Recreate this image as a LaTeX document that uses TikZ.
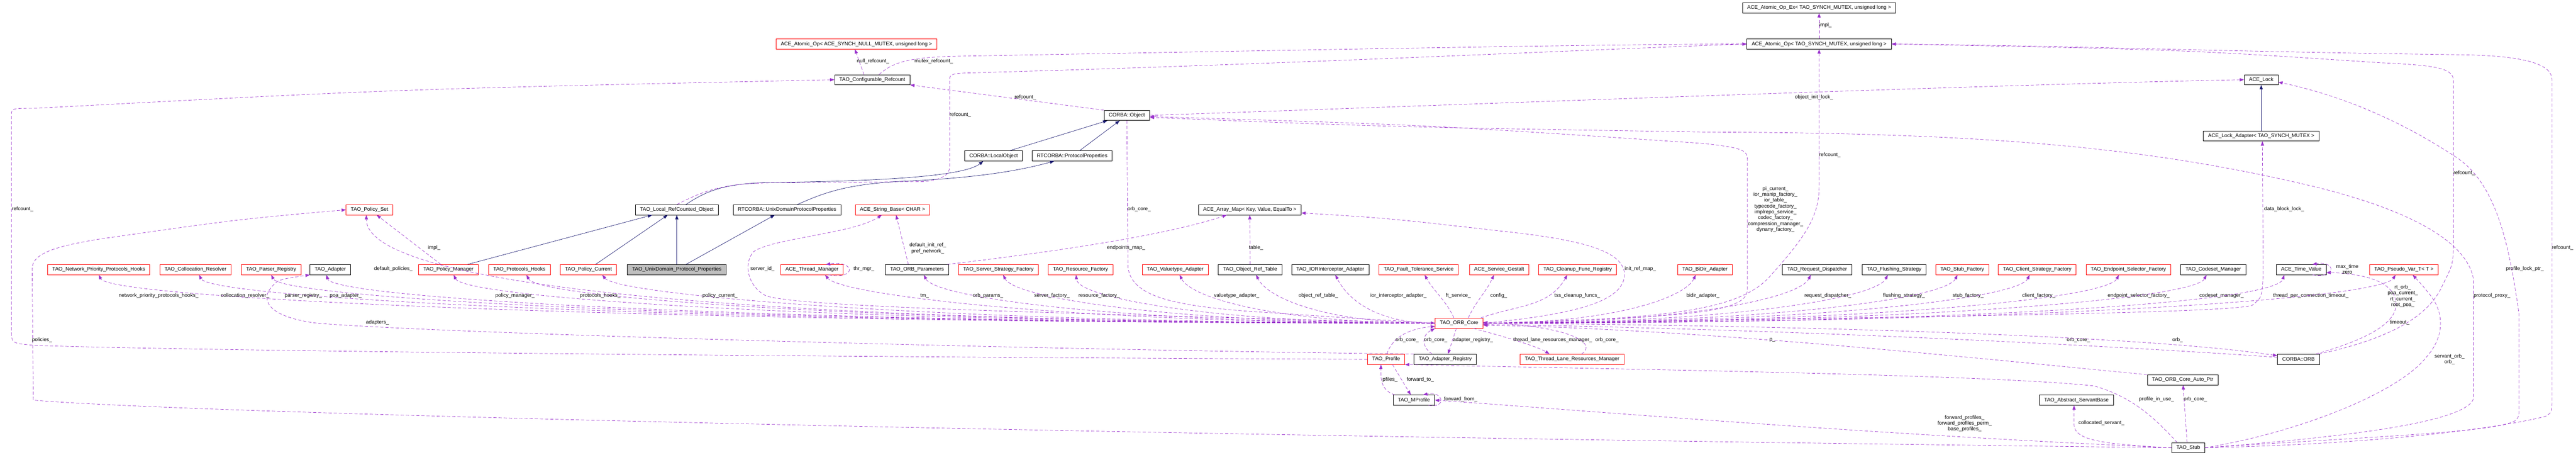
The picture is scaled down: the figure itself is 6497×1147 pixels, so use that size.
\documentclass[tikz,border=0pt]{standalone}
\usepackage{fontspec}
\setmainfont{Liberation Sans}
\usetikzlibrary{arrows.meta}

\definecolor{edgepurple}{HTML}{9A32CD}
\definecolor{edgenavy}{HTML}{191970}
\definecolor{boxgray}{HTML}{BFBFBF}

\tikzset{
  cls/.style={draw=black, line width=0.9pt, minimum height=25.5pt, inner xsep=12pt, inner ysep=0pt, font=\fontsize{13}{14.7}\selectfont},
  clsred/.style={cls, draw=red},
  clsmain/.style={cls, fill=boxgray},
  member/.style={draw=edgepurple, line width=0.9pt, dash pattern=on 8pt off 5pt, -{Triangle[length=11pt,width=8pt]}},
  inherit/.style={draw=edgenavy, line width=0.9pt, -{Triangle[length=11pt,width=8pt]}},
  lbl/.style={font=\fontsize{13}{14.7}\selectfont, inner sep=0pt, align=center},
}

\begin{document}
\begin{tikzpicture}[x=1pt, y=1pt]
\useasboundingbox (0,0) rectangle (6497,-1147);

% classes
\node[cls] (aopex) at (4588,-20) {ACE\_Atomic\_Op\_Ex< TAO\_SYNCH\_MUTEX, unsigned long >};
\node[cls] (aop) at (4588,-111) {ACE\_Atomic\_Op< TAO\_SYNCH\_MUTEX, unsigned long >};
\node[clsred] (aopnull) at (2160,-111) {ACE\_Atomic\_Op< ACE\_SYNCH\_NULL\_MUTEX, unsigned long >};
\node[cls] (cfgref) at (2200,-201) {TAO\_Configurable\_Refcount};
\node[cls] (acelock) at (5703,-201) {ACE\_Lock};
\node[cls] (corbaobj) at (2842,-291) {CORBA::Object};
\node[cls] (lockadapter) at (5703,-343) {ACE\_Lock\_Adapter< TAO\_SYNCH\_MUTEX >};
\node[cls] (localobj) at (2506,-393) {CORBA::LocalObject};
\node[cls] (protoprops) at (2704,-393) {RTCORBA::ProtocolProperties};
\node[clsred] (policyset) at (932,-529) {TAO\_Policy\_Set};
\node[cls] (lrco) at (1707,-529) {TAO\_Local\_RefCounted\_Object};
\node[cls] (rtudpp) at (1985,-529) {RTCORBA::UnixDomainProtocolProperties};
\node[clsred] (strbase) at (2251,-529) {ACE\_String\_Base< CHAR >};
\node[cls] (arraymap) at (3152,-529) {ACE\_Array\_Map< Key, Value, EqualTo >};

\node[clsred] (npph) at (249,-680) {TAO\_Network\_Priority\_Protocols\_Hooks};
\node[clsred] (collres) at (493,-680) {TAO\_Collocation\_Resolver};
\node[clsred] (parsreg) at (684,-680) {TAO\_Parser\_Registry};
\node[cls] (adapter) at (833,-680) {TAO\_Adapter};
\node[clsred] (polmgr) at (1131,-680) {TAO\_Policy\_Manager};
\node[clsred] (prothooks) at (1310,-680) {TAO\_Protocols\_Hooks};
\node[clsred] (polcur) at (1484,-680) {TAO\_Policy\_Current};
\node[clsmain] (udpp) at (1707,-680) {TAO\_UnixDomain\_Protocol\_Properties};
\node[clsred] (thrmgr) at (2048,-680) {ACE\_Thread\_Manager};
\node[cls] (orbparams) at (2313,-680) {TAO\_ORB\_Parameters};
\node[clsred] (ssf) at (2518,-680) {TAO\_Server\_Strategy\_Factory};
\node[clsred] (resfac) at (2725,-680) {TAO\_Resource\_Factory};
\node[clsred] (vtadapter) at (2964,-680) {TAO\_Valuetype\_Adapter};
\node[cls] (oreftable) at (3153,-680) {TAO\_Object\_Ref\_Table};
\node[cls] (iorint) at (3355,-680) {TAO\_IORInterceptor\_Adapter};
\node[clsred] (ftserv) at (3578,-680) {TAO\_Fault\_Tolerance\_Service};
\node[clsred] (svcgestalt) at (3781,-680) {ACE\_Service\_Gestalt};
\node[clsred] (cleanup) at (3979,-680) {TAO\_Cleanup\_Func\_Registry};
\node[clsred] (bidir) at (4300,-680) {TAO\_BiDir\_Adapter};
\node[cls] (reqdisp) at (4583,-680) {TAO\_Request\_Dispatcher};
\node[cls] (flushing) at (4777,-680) {TAO\_Flushing\_Strategy};
\node[clsred] (stubfac) at (4949,-680) {TAO\_Stub\_Factory};
\node[clsred] (csf) at (5138,-680) {TAO\_Client\_Strategy\_Factory};
\node[clsred] (esf) at (5368,-680) {TAO\_Endpoint\_Selector\_Factory};
\node[cls] (codeset) at (5582,-680) {TAO\_Codeset\_Manager};
\node[cls] (timeval) at (5804,-680) {ACE\_Time\_Value};
\node[clsred] (pseudovar) at (6063,-680) {TAO\_Pseudo\_Var\_T< T >};

\node[clsred] (orbcore) at (3680,-815) {TAO\_ORB\_Core};
\node[clsred] (profile) at (3496,-906) {TAO\_Profile};
\node[cls] (adreg) at (3645,-906) {TAO\_Adapter\_Registry};
\node[clsred] (tlrm) at (3965,-906) {TAO\_Thread\_Lane\_Resources\_Manager};
\node[cls] (corbaorb) at (5797,-906) {CORBA::ORB};
\node[cls] (autoptr) at (5505,-958) {TAO\_ORB\_Core\_Auto\_Ptr};
\node[cls] (mprofile) at (3566,-1009) {TAO\_MProfile};
\node[cls] (servantbase) at (5237,-1009) {TAO\_Abstract\_ServantBase};
\node[cls] (stub) at (5519,-1129) {TAO\_Stub};

% inheritance
\draw[inherit] (lockadapter) -- (acelock);
\draw[inherit] ([xshift=41]localobj.north) -- ([xshift=-49]corbaobj.south);
\draw[inherit] ([xshift=19]protoprops.north) -- ([xshift=-18]corbaobj.south);
\draw[inherit] ([xshift=23]lrco.north) .. controls (1790,-475) and (1840,-462) .. (1950,-460) .. controls (2300,-456) and (2440,-438) .. ([xshift=-26]localobj.south);
\draw[inherit] ([xshift=26]rtudpp.north) .. controls (2080,-485) and (2140,-462) .. (2300,-456) .. controls (2480,-447) and (2580,-428) .. ([xshift=-45]protoprops.south);
\draw[inherit] ([xshift=48]polmgr.north) -- ([xshift=-62]lrco.south);
\draw[inherit] ([xshift=18]polcur.north) -- ([xshift=-23]lrco.south);
\draw[inherit] (udpp) -- (lrco);
\draw[inherit] ([xshift=23]udpp.north) -- ([xshift=-31]rtudpp.south);

% members, top part
\draw[member] (aop) -- (aopex);
\node[lbl] (l-impl) at (4604,-64) {impl\_};
\draw[member] ([xshift=-21]cfgref.north) -- ([xshift=-4]aopnull.south);
\node[lbl] (l-nullref) at (2202,-154) {null\_refcount\_};
\draw[member] ([xshift=17]cfgref.north) .. controls (2250,-160) and (2280,-146) .. (2400,-142) .. controls (3300,-126) and (4000,-112) .. (aop.west);
\node[lbl] (l-mutexref) at (2355,-154) {mutex\_refcount\_};
\draw[member] (corbaobj.north west) -- (cfgref.south east);
\node[lbl] (l-objref) at (2586,-246) {refcount\_};
\draw[member] (lrco.north) .. controls (1780,-478) and (1830,-462) .. (1950,-461) -- (2330,-458) .. controls (2380,-452) and (2395,-440) .. (2395,-420) -- (2395,-200) .. controls (2395,-187) and (2405,-185) .. (2440,-184) .. controls (3300,-160) and (4000,-125) .. (aop.west);
\node[lbl] (l-lrcoref) at (2422,-290) {refcount\_};
\draw[member] (corbaobj.east) .. controls (3800,-260) and (5000,-214) .. (acelock.west);
\node[lbl] (l-initlock) at (4575,-246) {object\_init\_lock\_};
\draw[member] (orbcore.east) .. controls (4250,-805) and (4400,-775) .. (4470,-690) .. controls (4560,-590) and (4588,-540) .. (4588,-470) -- (aop.south);
\node[lbl] (l-coreref) at (4615,-391) {refcount\_};
\draw[member] (orbcore.east) .. controls (4250,-800) and (4407,-790) .. (4407,-730) -- (4407,-400) .. controls (4407,-377) and (4385,-372) .. (4300,-362) .. controls (3600,-315) .. ([yshift=-3]corbaobj.east);
\node[lbl] (l-pi) at (4478,-528) {pi\_current\_\\ior\_manip\_factory\_\\ior\_table\_\\typecode\_factory\_\\implrepo\_service\_\\codec\_factory\_\\compression\_manager\_\\dynany\_factory\_};
\draw[member] (corbaobj.south) -- (2845,-675) .. controls (2855,-745) and (2950,-770) .. (3150,-785) .. controls (3450,-805) .. (orbcore.west);
\node[lbl] (l-objcore) at (2873,-527) {orb\_core\_};
\draw[member] (orbcore.east) .. controls (4800,-800) and (5620,-790) .. (5680,-770) .. controls (5705,-750) .. (5708,-690) -- ([xshift=3]lockadapter.south);
\node[lbl] (l-dblock) at (5761,-527) {data\_block\_lock\_};

% members, far right
\draw[member] ([xshift=-2]corbaorb.north east) .. controls (6000,-860) and (6120,-810) .. (6160,-720) .. controls (6185,-670) .. (6188,-630) -- (6188,-205) .. controls (6188,-172) and (6150,-165) .. (6000,-158) .. controls (5500,-125) .. (aop.east);
\node[lbl] (l-orbref) at (6215,-437) {refcount\_};
\draw[member] (stub.east) .. controls (6000,-1120) and (6300,-1080) .. (6420,-1050) .. controls (6436,-1040) .. (6436,-1010) -- (6436,-200) .. controls (6436,-165) and (6380,-140) .. (6200,-138) .. controls (5600,-130) and (5200,-115) .. (aop.east);
\node[lbl] (l-stubref) at (6463,-625) {refcount\_};
\draw[member] (stub.east) .. controls (6000,-1100) and (6300,-1090) .. (6345,-1060) .. controls (6353,-1050) .. (6353,-1035) -- (6353,-790) .. controls (6330,-630) and (6300,-470) .. (6200,-400) .. controls (6050,-300) and (5900,-240) .. ([yshift=-6]acelock.east);
\node[lbl] (l-plock) at (6368,-678) {profile\_lock\_ptr\_};
\draw[member] (stub.east) .. controls (5950,-1100) and (6239,-1060) .. (6239,-1000) -- (6239,-710) .. controls (6230,-620) and (6100,-530) .. (5800,-462) .. controls (5400,-370) and (5000,-335) .. (4300,-333) .. controls (3500,-320) .. ([yshift=-5]corbaobj.east);
\node[lbl] (l-pproxy) at (6285,-746) {protocol\_proxy\_};
\draw[member] (stub.east) .. controls (5800,-1090) and (6050,-990) .. (6120,-900) .. controls (6165,-850) and (6165,-790) .. (6130,-745) .. controls (6110,-720) .. ([xshift=22]pseudovar.south);
\node[lbl] (l-servorb) at (6178,-906) {servant\_orb\_\\orb\_};
\draw[member] ([xshift=-10]corbaorb.north east) .. controls (5920,-870) and (6040,-830) .. (6043,-770) .. controls (6045,-705) and (5950,-690) .. ([yshift=-7]timeval.east);
\node[lbl] (l-timeout) at (6052,-813) {timeout\_};

% members, far left
\draw[member] (profile.west) .. controls (2000,-900) and (500,-885) .. (90,-871) .. controls (29,-866) .. (29,-835) -- (29,-290) .. controls (29,-273) .. (90,-273) .. controls (1000,-225) .. (cfgref.west);
\node[lbl] (l-profref) at (57,-527) {refcount\_};
\draw[member] (stub.west) .. controls (3000,-1100) and (500,-1045) .. (84,-1009) -- (81,-678) .. controls (81,-636) and (150,-620) .. (250,-603) .. controls (600,-553) .. (policyset.west);
\node[lbl] (l-policies) at (106,-858) {policies\_};
\draw[member] (adreg.north west) .. controls (2500,-880) and (1100,-840) .. (800,-815) .. controls (680,-800) and (660,-760) .. (680,-730) .. controls (700,-705) .. (adapter.south west);
\node[lbl] (l-adapters) at (952,-813) {adapters\_};
\draw[member] (orbcore.west) .. controls +(-1500,0) and +(0,-200) .. ([xshift=-8]policyset.south);
\node[lbl] (l-defpol) at (992,-678) {default\_policies\_};
\draw[member] ([xshift=-19]polmgr.north) -- ([xshift=18]policyset.south);
\node[lbl] (l-pmimpl) at (1095,-625) {impl\_};
\draw[member] (orbcore.west) .. controls (2700,-790) and (2000,-775) .. (1930,-745) .. controls (1885,-720) and (1875,-665) .. (1900,-635) .. controls (1950,-600) and (2150,-590) .. ([xshift=-27]strbase.south);
\node[lbl] (l-serverid) at (1923,-678) {server\_id\_};
\draw[member] ([xshift=-22]orbparams.north) -- ([xshift=9]strbase.south);
\node[lbl] (l-initref) at (2340,-626) {default\_init\_ref\_\\pref\_network\_};
\draw[member] ([xshift=76]orbparams.north) .. controls (2700,-630) and (2950,-590) .. ([xshift=-58]arraymap.south);
\node[lbl] (l-epmap) at (2840,-625) {endpoints\_map\_};
\draw[member] (oreftable) -- (arraymap);
\node[lbl] (l-table) at (3168,-625) {table\_};
\draw[member] (orbcore.east) .. controls (3950,-795) and (4100,-765) .. (4097,-690) .. controls (4093,-635) and (4000,-610) .. (3850,-590) .. controls (3500,-550) .. ([yshift=-8]arraymap.east);
\node[lbl] (l-initmap) at (4137,-678) {init\_ref\_map\_};

% members, orb core row (left)
\draw[member] (orbcore.west) .. controls +(-2000,0) and +(30,-60) .. (npph.south);
\node[lbl] (l-npph) at (400,-746) {network\_priority\_protocols\_hooks\_};
\draw[member] (orbcore.west) .. controls +(-1870,0) and +(30,-60) .. ([xshift=9]collres.south);
\node[lbl] (l-collres) at (618,-746) {collocation\_resolver\_};
\draw[member] (orbcore.west) .. controls +(-1760,0) and +(30,-60) .. (parsreg.south);
\node[lbl] (l-parsreg) at (765,-746) {parser\_registry\_};
\draw[member] (orbcore.west) .. controls +(-1680,0) and +(20,-60) .. ([xshift=-10]adapter.south);
\node[lbl] (l-poa) at (872,-746) {poa\_adapter\_};
\draw[member] (orbcore.west) .. controls +(-1485,0) and +(30,-60) .. ([xshift=13]polmgr.south);
\node[lbl] (l-polmgr) at (1299,-746) {policy\_manager\_};
\draw[member] (orbcore.west) .. controls +(-1375,0) and +(30,-60) .. ([xshift=18]prothooks.south);
\node[lbl] (l-prothooks) at (1514,-746) {protocols\_hooks\_};
\draw[member] (orbcore.west) .. controls +(-1260,0) and +(40,-50) .. ([xshift=35]polcur.south);
\node[lbl] (l-polcur) at (1816,-746) {policy\_current\_};
\draw[member] (orbcore.west) .. controls +(-920,0) and +(40,-50) .. ([xshift=33]thrmgr.south);
\node[lbl] (l-tm) at (2332,-746) {tm\_};
\draw[member] ([xshift=42]thrmgr.south) .. controls +(70,-12) and +(75,10) .. ([xshift=35]thrmgr.north);
\node[lbl] (l-thrmgr) at (2179,-678) {thr\_mgr\_};
\draw[member] (orbcore.west) .. controls +(-770,0) and +(30,-60) .. ([xshift=17]orbparams.south);
\node[lbl] (l-orbparams) at (2492,-746) {orb\_params\_};
\draw[member] (orbcore.west) .. controls +(-650,0) and +(30,-60) .. ([xshift=12]ssf.south);
\node[lbl] (l-ssf) at (2653,-746) {server\_factory\_};
\draw[member] (orbcore.west) .. controls +(-540,0) and +(5,-60) .. ([xshift=-11]resfac.south);
\node[lbl] (l-resfac) at (2772,-746) {resource\_factory\_};
\draw[member] (orbcore.west) .. controls +(-390,0) and +(30,-60) .. ([xshift=11]vtadapter.south);
\node[lbl] (l-vt) at (3119,-746) {valuetype\_adapter\_};
\draw[member] (orbcore.west) .. controls +(-270,0) and +(30,-60) .. ([xshift=15]oreftable.south);
\node[lbl] (l-oref) at (3325,-746) {object\_ref\_table\_};
\draw[member] (orbcore.west) .. controls +(-150,0) and +(30,-60) .. ([xshift=13]iorint.south);
\node[lbl] (l-ior) at (3527,-746) {ior\_interceptor\_adapter\_};
\draw[member] ([xshift=-13]orbcore.north) to[out=115, in=-60] ([xshift=15]ftserv.south);
\node[lbl] (l-ft) at (3678,-746) {ft\_service\_};
\draw[member] ([xshift=23]orbcore.north) to[out=65, in=-115] ([xshift=-13]svcgestalt.south);
\node[lbl] (l-config) at (3780,-746) {config\_};
\draw[member] ([xshift=-6]orbcore.north east) to[out=20, in=-120] ([xshift=-26]cleanup.south);
\node[lbl] (l-tss) at (3978,-746) {tss\_cleanup\_funcs\_};

% members, orb core row (right)
\draw[member] (orbcore.east) .. controls +(320,0) and +(-30,-60) .. ([xshift=-23]bidir.south);
\node[lbl] (l-bidir) at (4295,-746) {bidir\_adapter\_};
\draw[member] (orbcore.east) .. controls +(500,0) and +(-30,-60) .. ([xshift=-16]reqdisp.south);
\node[lbl] (l-reqdisp) at (4610,-746) {request\_dispatcher\_};
\draw[member] (orbcore.east) .. controls +(610,0) and +(-30,-60) .. ([xshift=-16]flushing.south);
\node[lbl] (l-flushing) at (4802,-746) {flushing\_strategy\_};
\draw[member] (orbcore.east) .. controls +(720,0) and +(-30,-60) .. ([xshift=-12]stubfac.south);
\node[lbl] (l-stubfac) at (4964,-746) {stub\_factory\_};
\draw[member] (orbcore.east) .. controls +(830,0) and +(-30,-60) .. ([xshift=-19]csf.south);
\node[lbl] (l-csf) at (5142,-746) {client\_factory\_};
\draw[member] (orbcore.east) .. controls +(960,0) and +(-30,-60) .. ([xshift=-24]esf.south);
\node[lbl] (l-esf) at (5394,-746) {endpoint\_selector\_factory\_};
\draw[member] (orbcore.east) .. controls +(1090,0) and +(-30,-60) .. ([xshift=-17]codeset.south);
\node[lbl] (l-codeset) at (5603,-746) {codeset\_manager\_};
\draw[member] (orbcore.east) .. controls +(1210,0) and +(-20,-70) .. ([xshift=-43]timeval.south);
\node[lbl] (l-tpct) at (5828,-746) {thread\_per\_connection\_timeout\_};
\draw[member] ([xshift=29]timeval.south) .. controls +(60,-10) and +(60,10) .. ([xshift=28]timeval.north);
\node[lbl] (l-maxtime) at (5920,-679) {max\_time\\zero};
\draw[member] (orbcore.east) .. controls +(1380,0) and +(-40,-60) .. ([xshift=-21]pseudovar.south);
\node[lbl] (l-rtorb) at (6060,-747) {rt\_orb\_\\poa\_current\_\\rt\_current\_\\root\_poa\_};

% members, below the orb core
\draw[member] ([xshift=2]profile.north) .. controls (3508,-860) and (3540,-830) .. ([yshift=-8]orbcore.west);
\node[lbl] (l-profcore) at (3549,-858) {orb\_core\_};
\draw[member] ([xshift=-33]adreg.north) .. controls (3585,-875) and (3585,-845) .. (orbcore.south west);
\node[lbl] (l-adregcore) at (3621,-858) {orb\_core\_};
\draw[member] ([xshift=-7]orbcore.south) -- ([xshift=7]adreg.north);
\node[lbl] (l-adreg) at (3715,-858) {adapter\_registry\_};
\draw[member] ([xshift=36]orbcore.south) .. controls (3800,-850) and (3880,-875) .. ([xshift=-57]tlrm.north);
\node[lbl] (l-tlrm) at (3916,-858) {thread\_lane\_resources\_manager\_};
\draw[member] ([xshift=24]tlrm.north) .. controls (4030,-865) and (3960,-823) .. ([yshift=2]orbcore.east);
\node[lbl] (l-tlrmcore) at (4053,-858) {orb\_core\_};
\draw[member] (autoptr.north west) .. controls (5000,-905) and (4300,-830) .. ([yshift=-5]orbcore.east);
\node[lbl] (l-p) at (4470,-858) {p\_};
\draw[member] ([yshift=5]corbaorb.west) .. controls (5300,-870) and (4500,-830) .. ([yshift=-3]orbcore.east);
\node[lbl] (l-orbcore) at (5242,-858) {orb\_core\_};
\draw[member] (orbcore.east) .. controls (4500,-820) and (5400,-845) .. ([yshift=9]corbaorb.west);
\node[lbl] (l-orb) at (5492,-858) {orb\_};
\draw[member] ([xshift=16]profile.south) -- ([xshift=-8]mprofile.north);
\node[lbl] (l-fwdto) at (3582,-957) {forward\_to\_};
\draw[member] ([xshift=-48]mprofile.north) .. controls (3485,-985) and (3482,-960) .. ([xshift=-13]profile.south);
\node[lbl] (l-pfiles) at (3506,-957) {pfiles\_};
\draw[member] ([xshift=37]mprofile.south) .. controls +(47,-8) and +(51,11) .. ([xshift=23]mprofile.north);
\node[lbl] (l-fwdfrom) at (3684,-1007) {forward\_from\_};
\draw[member] ([xshift=-28]stub.north) .. controls (5440,-1060) and (5380,-1000) .. (5280,-973) .. controls (5000,-943) and (4000,-930) .. (profile.south east);
\node[lbl] (l-inuse) at (5439,-1007) {profile\_in\_use\_};
\draw[member] ([xshift=-3]stub.north) -- ([xshift=1]autoptr.south);
\node[lbl] (l-autocore) at (5537,-1007) {orb\_core\_};
\draw[member] (stub.west) .. controls (5300,-1120) and (5231,-1110) .. (5231,-1070) -- ([xshift=-6]servantbase.south);
\node[lbl] (l-colloc) at (5300,-1067) {collocated\_servant\_};
\draw[member] (stub.west) .. controls (4700,-1095) and (4000,-1035) .. (mprofile.east);
\node[lbl] (l-fwdprof) at (4955,-1068) {forward\_profiles\_\\forward\_profiles\_perm\_\\base\_profiles\_};
\end{tikzpicture}
\end{document}
